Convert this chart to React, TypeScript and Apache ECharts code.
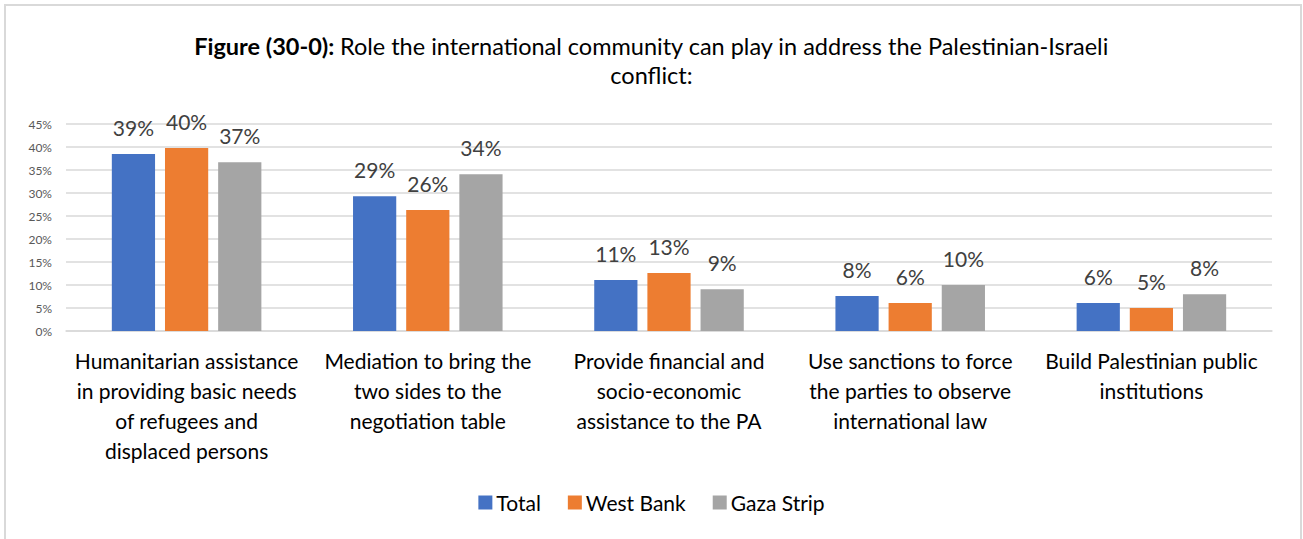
import React, { useEffect, useRef } from "react";
import * as echarts from "echarts";

const categories = [
  "Humanitarian assistance\nin providing basic needs\nof refugees and\ndisplaced persons",
  "Mediation to bring the\ntwo sides to the\nnegotiation table",
  "Provide financial and\nsocio-economic\nassistance to the PA",
  "Use sanctions to force\nthe parties to observe\ninternational law",
  "Build Palestinian public\ninstitutions",
];
const totalValues = [38.5, 29.3, 11.1, 7.6, 6.1];
const westBankValues = [39.8, 26.3, 12.6, 6.1, 5.0];
const gazaValues = [36.7, 34.1, 9.1, 10.0, 8.0];
const seriesNames = ["Total", "West Bank", "Gaza Strip"];
const colors = ["#4472C4", "#ED7D31", "#A5A5A5"];

const FONT = "Lato, 'Open Sans', sans-serif";

export default function App() {
  const ref = useRef<HTMLDivElement>(null);
  useEffect(() => {
    document.body.style.margin = "0";
    if (!ref.current) return;
    const chart = echarts.init(ref.current, null, { renderer: "svg" });
    const label = {
      show: true,
      position: "top" as const,
      distance: 16,
      fontSize: 21,
      color: "#404040",
      fontFamily: FONT,
      formatter: (p: any) => Math.round(p.value) + "%",
    };
    const dataSets = [totalValues, westBankValues, gazaValues];
    chart.setOption({
      animation: false,
      backgroundColor: "#ffffff",
      graphic: [
        {
          type: "rect",
          shape: { x: 5, y: 5, width: 1296, height: 600 },
          style: { fill: "none", stroke: "#d9d9d9", lineWidth: 2 },
          silent: true,
        },
      ],
      title: {
        left: "center",
        top: 26,
        text:
          "{b|Figure (30-0):} {n|Role the international community can play in address the Palestinian-Israeli}\n{n|conflict:}",
        textStyle: {
          fontWeight: "normal",
          rich: {
            b: { fontSize: 23.5, fontWeight: "bold", color: "#000", fontFamily: FONT, lineHeight: 29 },
            n: { fontSize: 23.5, fontWeight: "normal", color: "#000", fontFamily: FONT, lineHeight: 29 },
          },
        },
      },
      legend: {
        bottom: 21,
        left: "center",
        itemWidth: 14,
        itemHeight: 14,
        itemGap: 27,
        icon: "rect",
        textStyle: { fontSize: 21, color: "#000", fontFamily: FONT, padding: [0, 0, 0, -1] },
        data: seriesNames,
      },
      grid: { left: 66, right: 31, top: 124, bottom: 208, containLabel: false },
      xAxis: {
        type: "category",
        data: categories,
        axisLine: { show: true, lineStyle: { color: "#d9d9d9", width: 1.5 } },
        axisTick: { show: false },
        axisLabel: {
          interval: 0,
          margin: 14,
          fontSize: 21,
          lineHeight: 30,
          color: "#000",
          fontFamily: FONT,
        },
      },
      yAxis: {
        type: "value",
        min: 0,
        max: 45,
        interval: 5,
        axisLine: { show: false },
        axisTick: { show: false },
        splitLine: { lineStyle: { color: "#d9d9d9", width: 1.5 } },
        axisLabel: {
          formatter: "{value}%",
          fontSize: 12,
          color: "#595959",
          fontFamily: FONT,
          margin: 14,
        },
      },
      series: seriesNames.map((name, i) => ({
        name,
        type: "bar",
        data: dataSets[i],
        barGap: "23%",
        barCategoryGap: "38%",
        itemStyle: { color: colors[i] },
        label,
      })),
    });
    return () => chart.dispose();
  }, []);
  return <div ref={ref} style={{ width: 1303, height: 539 }} />;
}
